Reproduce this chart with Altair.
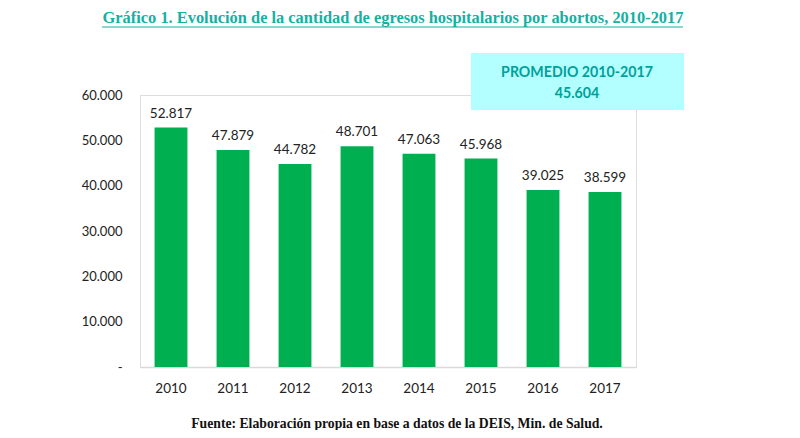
import altair as alt
import pandas as pd

years = ["2010", "2011", "2012", "2013", "2014", "2015", "2016", "2017"]
values = [52817, 47879, 44782, 48701, 47063, 45968, 39025, 38599]
y_ticks = [0, 10000, 20000, 30000, 40000, 50000, 60000]
title_text = "Gráfico 1. Evolución de la cantidad de egresos hospitalarios por abortos, 2010-2017"
source_text = "Fuente: Elaboración propia en base a datos de la DEIS, Min. de Salud."
box_title = "PROMEDIO 2010-2017"


def fmt(v):
    return f"{v:,}".replace(",", ".")


avg = round(sum(values) / len(values))
df = pd.DataFrame({"year": years, "value": values, "label": [fmt(v) for v in values]})

W, H = 496, 272
LEFT, TOP = 132, 87

base = alt.Chart(df)

bars = base.mark_bar(color="#00b050").encode(
    x=alt.X("year:N", sort=years, title=None,
            scale=alt.Scale(paddingInner=0.47),
            axis=alt.Axis(labelAngle=0, labelFont="Lato", labelFontSize=13.5, labelColor="#222",
                          labelPadding=14, ticks=False, domainColor="#d9d9d9", domainWidth=1.5)),
    y=alt.Y("value:Q", title=None,
            scale=alt.Scale(domain=[0, 60000], nice=False),
            axis=alt.Axis(values=y_ticks, grid=False, domain=False, ticks=False,
                          labelFont="Lato", labelFontSize=13, labelColor="#222", labelPadding=18,
                          labelExpr="datum.value == 0 ? '-\u00a0\u00a0\u00a0\u00a0\u00a0' : replace(format(datum.value, ',d'), ',', '.')")),
)

labels = base.mark_text(font="Lato", fontSize=13.5, color="#222", baseline="bottom", dy=-7).encode(
    x=alt.X("year:N", sort=years),
    y="value:Q",
    text="label:N",
)

ann = pd.DataFrame({"t": [title_text]})
title = alt.Chart(ann).mark_text(font="Liberation Serif", fontWeight="bold", fontSize=16.4,
                                 color="#14b1a2", align="center", baseline="middle").encode(
    x=alt.value(253), y=alt.value(-77), text="t:N")
underline = alt.Chart(ann).mark_rule(color="#14b1a2", strokeWidth=1).encode(
    x=alt.value(-38), x2=alt.value(543), y=alt.value(-68))

box = alt.Chart(ann).mark_rect(color="#b3ffff").encode(
    x=alt.value(331), x2=alt.value(544), y=alt.value(-42), y2=alt.value(15))
box_df = pd.DataFrame({"t": [box_title, fmt(avg)], "yy": [-22, -1]})
box_text = alt.Chart(box_df).mark_text(font="Lato", fontWeight="bold", fontSize=14.2,
                                       color="#00a19a", align="center", baseline="middle").encode(
    x=alt.value(437), y=alt.Y("yy:Q", scale=None), text="t:N")

src = alt.Chart(pd.DataFrame({"t": [source_text]})).mark_text(
    font="Liberation Serif", fontWeight="bold", fontSize=13.7, color="#111",
    align="center", baseline="middle").encode(x=alt.value(257), y=alt.value(329), text="t:N")

chart = alt.layer(box, box_text, bars, labels, title, underline, src).properties(
    width=W, height=H,
    padding={"left": LEFT, "top": TOP, "right": 800 - 16 - LEFT - W, "bottom": 438 - 16 - TOP - H},
    autosize=alt.AutoSizeParams(type="none"),
).configure_view(stroke=None).configure(background="white")

chart.save("out.html", embed_options={"renderer": "svg", "actions": False})
